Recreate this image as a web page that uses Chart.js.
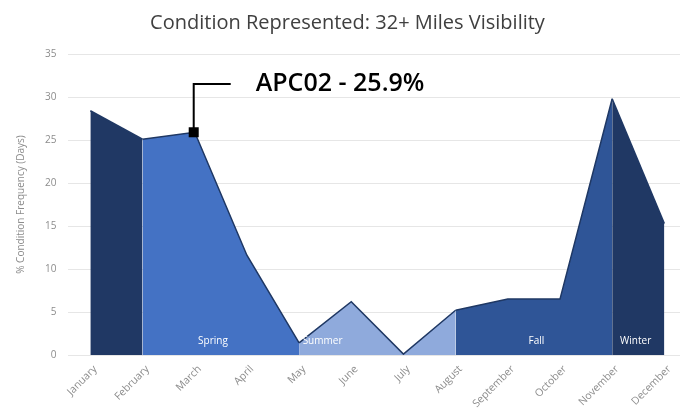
<!DOCTYPE html>
<html>
<head>
<meta charset="utf-8">
<script src="https://cdn.jsdelivr.net/npm/chart.js@4.4.0/dist/chart.umd.min.js"></script>
<style>
  html, body { margin: 0; padding: 0; background: #fff; }
  #wrap { width: 680px; height: 419px; }
</style>
</head>
<body>
<div id="wrap"><canvas id="chart"></canvas></div>
<script>
const months = ['January', 'February', 'March', 'April', 'May', 'June', 'July',
    'August', 'September', 'October', 'November', 'December'];
const frequency = [28.4, 25.1, 25.9, 11.6, 1.4, 6.2, 0.1, 5.2, 6.5, 6.5, 29.8, 15.3];
// season of each segment (segment i runs from month i to month i+1)
const segmentSeason = ['Winter', 'Spring', 'Spring', 'Spring', 'Summer', 'Summer',
    'Summer', 'Fall', 'Fall', 'Fall', 'Winter'];
const seasonNames = ['Spring', 'Summer', 'Fall', 'Winter'];
const seasonLabelAt = [2.35, 4.45, 8.55, 10.45];
const yTicks = [0, 5, 10, 15, 20, 25, 30, 35];
const calloutIndex = 2;
const calloutText = 'APC02 - 25.9%';

const seasonColors = {
    Winter: '#203864',
    Spring: '#4472C4',
    Summer: '#8FAADC',
    Fall: '#2F5597'
};

const seasonLabels = {
    id: 'seasonLabels',
    afterDatasetsDraw(chart) {
        const { ctx, scales: { x, y } } = chart;
        ctx.save();
        ctx.fillStyle = '#ffffff';
        ctx.font = '10px "Open Sans"';
        ctx.textAlign = 'center';
        ctx.textBaseline = 'middle';
        seasonNames.forEach((name, i) => {
            ctx.fillText(name, x.getPixelForValue(seasonLabelAt[i]), y.getPixelForValue(1.6));
        });
        ctx.restore();
    }
};

const callout = {
    id: 'callout',
    afterDatasetsDraw(chart) {
        const { ctx, scales: { x, y } } = chart;
        const px = x.getPixelForValue(calloutIndex);
        const py = y.getPixelForValue(frequency[calloutIndex]);
        const topY = y.getPixelForValue(31.5);
        ctx.save();
        ctx.strokeStyle = '#000';
        ctx.lineWidth = 2;
        ctx.beginPath();
        ctx.moveTo(px - 1, py);
        ctx.lineTo(px - 1, topY);
        ctx.lineTo(px + 36, topY);
        ctx.stroke();
        ctx.fillStyle = '#000';
        ctx.fillRect(px - 6, py - 5, 10, 10);
        ctx.font = '600 25px "Open Sans"';
        ctx.textBaseline = 'middle';
        ctx.fillText(calloutText, px + 61, topY);
        ctx.restore();
    }
};

new Chart(document.getElementById('chart'), {
    type: 'line',
    data: {
        datasets: [{
            data: frequency.map((v, i) => ({ x: i, y: v })),
            borderColor: '#1F3864',
            borderWidth: 1.5,
            pointRadius: 0,
            tension: 0,
            fill: 'origin',
            backgroundColor: seasonColors.Winter,
            segment: {
                backgroundColor: ctx => seasonColors[segmentSeason[ctx.p0DataIndex]]
            }
        }]
    },
    options: {
        responsive: true,
        maintainAspectRatio: false,
        animation: false,
        layout: { padding: { top: 8, right: 0, left: 15, bottom: 0 } },
        plugins: {
            legend: { display: false },
            tooltip: { enabled: false },
            title: {
                display: true,
                text: 'Condition Represented: 32+ Miles Visibility',
                color: '#404040',
                font: { family: 'Open Sans', size: 20, weight: 'normal' },
                padding: { top: 3, bottom: 19 }
            }
        },
        scales: {
            x: {
                type: 'linear',
                min: -0.42,
                max: 11.3,
                afterBuildTicks: axis => {
                    axis.ticks = months.map((m, i) => ({ value: i }));
                },
                afterFit: axis => {
                    axis.height = 64;
                },
                ticks: {
                    callback: v => months[v],
                    color: '#8c8c8c',
                    font: { family: 'Open Sans', size: 10.5 },
                    minRotation: 45,
                    maxRotation: 45,
                    autoSkip: false,
                    labelOffset: 5,
                    padding: 0
                },
                grid: { display: false },
                border: { display: false }
            },
            y: {
                min: 0,
                max: 35,
                afterBuildTicks: axis => {
                    axis.ticks = yTicks.map(v => ({ value: v }));
                },
                title: {
                    display: true,
                    text: '% Condition Frequency (Days)',
                    color: '#8c8c8c',
                    font: { family: 'Open Sans', size: 10 },
                    padding: { top: 0, bottom: 6 }
                },
                ticks: {
                    color: '#8c8c8c',
                    font: { family: 'Open Sans', size: 10 },
                    padding: 12
                },
                grid: { color: '#e6e6e6', drawTicks: false },
                border: { display: false }
            }
        }
    },
    plugins: [seasonLabels, callout]
});
</script>
</body>
</html>
